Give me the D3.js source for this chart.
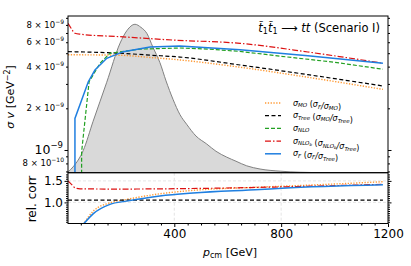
<!DOCTYPE html>
<html>
<head>
<meta charset="utf-8">
<script src="https://cdn.jsdelivr.net/npm/d3@7"></script>
<style>
  body { margin: 0; background: #fff; }
  svg { font-family: "DejaVu Sans", sans-serif; }
</style>
</head>
<body>
<svg id="chart" width="411" height="266"></svg>
<script>
// distribution (arbitrary units, 0..1)
const distP = [3, 21, 59, 96, 147, 197, 223, 253, 275, 297, 320, 346, 369, 395, 421, 446, 481, 521, 556, 596, 631, 671, 721, 796, 871, 983, 1100];
const distV = [0.006, 0.038, 0.145, 0.336, 0.591, 0.847, 0.93, 0.97, 0.95, 0.911, 0.82, 0.72, 0.60, 0.48, 0.38, 0.317, 0.24, 0.188, 0.14, 0.102, 0.075, 0.045, 0.024, 0.01, 0.003, 0.0, 0.0];

// cross sections [GeV^-2]
const sigMO   = [[2, 4.87e-9], [100, 4.86e-9], [197, 4.83e-9], [309, 4.66e-9], [421, 4.47e-9], [646, 3.96e-9], [900, 3.35e-9], [1181, 2.74e-9]];
const sigTree = [[2, 5.13e-9], [100, 5.08e-9], [197, 5.0e-9], [309, 4.84e-9], [421, 4.69e-9], [646, 4.11e-9], [900, 3.5e-9], [1181, 2.9e-9]];
const sigNLO  = [[53, 5e-10], [53, 9.7e-10], [81, 3.11e-9], [122, 4.23e-9], [159, 4.99e-9], [272, 5.35e-9], [421, 5.45e-9], [530, 5.35e-9], [646, 5.15e-9], [800, 4.75e-9], [1000, 4.3e-9], [1181, 3.83e-9]];
const sigNLOb = [[2, 8.2e-9], [15, 7.5e-9], [28, 6.96e-9], [50, 6.85e-9], [197, 6.58e-9], [395, 6.22e-9], [646, 5.89e-9], [900, 5.1e-9], [1181, 4.23e-9]];
const sigF    = [[28, 5e-10], [28, 1.69e-9], [78, 3.11e-9], [103, 3.78e-9], [147, 4.59e-9], [209, 5.13e-9], [309, 5.55e-9], [421, 5.63e-9], [646, 5.3e-9], [900, 4.8e-9], [1181, 4.23e-9]];

// ratios
const ratMO   = [[59, 0.49], [97, 0.80], [159, 0.99], [222, 1.07], [346, 1.2], [470, 1.28], [721, 1.355], [900, 1.4], [1181, 1.48]];
const ratTree = [[2, 1.055], [1181, 1.055]];
const ratNLOb = [[2, 1.5], [15, 1.42], [28, 1.34], [47, 1.315], [200, 1.31], [350, 1.315], [550, 1.33], [800, 1.36], [1000, 1.39], [1181, 1.42]];
const ratF    = [[59, 0.49], [97, 0.74], [159, 0.955], [222, 1.03], [346, 1.15], [470, 1.22], [721, 1.30], [803, 1.33], [1181, 1.41]];

const xMajor = [400, 800, 1200];
const yMinorLabels = [8e-10, 2e-9, 4e-9, 6e-9, 8e-9];
const rMajor = [1.0, 1.5];

const L = 68, R = 388, T = 16, M = 172.7, B = 223.5;
const svg = d3.select("#chart");

const x = d3.scaleLinear().domain([2, 1200]).range([L, R]);
const y = d3.scaleLog().domain([6.855e-10, 9.28e-9]).range([M, T]);
const yd = d3.scaleLinear().domain([0, 1]).range([M, T + 3.7]);
const yr = d3.scaleLinear().domain([0.51, 1.69]).range([B, M]);

const defs = svg.append("defs");
defs.append("clipPath").attr("id", "clipTop").append("rect")
  .attr("x", L).attr("y", T).attr("width", R - L).attr("height", M - T);
defs.append("clipPath").attr("id", "clipBot").append("rect")
  .attr("x", L).attr("y", M).attr("width", R - L).attr("height", B - M);

// grid in lower panel
const grid = svg.append("g").attr("clip-path", "url(#clipBot)");
grid.selectAll(".gx").data([400, 800]).enter().append("line")
  .attr("x1", d => x(d)).attr("x2", d => x(d)).attr("y1", M).attr("y2", B)
  .attr("stroke", "#ddd").attr("stroke-width", 0.8).attr("stroke-dasharray", "3,2");
grid.selectAll(".gy").data(rMajor).enter().append("line")
  .attr("x1", L).attr("x2", R).attr("y1", d => yr(d)).attr("y2", d => yr(d))
  .attr("stroke", "#ddd").attr("stroke-width", 0.8).attr("stroke-dasharray", "3,2");

// distribution
const gTop = svg.append("g").attr("clip-path", "url(#clipTop)");
const dist = distP.map((p, i) => [p, distV[i]]);
gTop.append("path").datum(dist)
  .attr("d", d3.area().x(d => x(d[0])).y0(M).y1(d => yd(d[1])).curve(d3.curveMonotoneX))
  .attr("fill", "#d9d9d9");
gTop.append("path").datum(dist)
  .attr("d", d3.line().x(d => x(d[0])).y(d => yd(d[1])).curve(d3.curveMonotoneX))
  .attr("fill", "none").attr("stroke", "#808080").attr("stroke-width", 1);

const styles = {
  mo:   { color: "#ff9933", dash: "1.3,1.5", w: 1.4 },
  tree: { color: "#000000", dash: "4,2.5", w: 1.2 },
  nlo:  { color: "#22a022", dash: "4,2", w: 1.2 },
  nlob: { color: "#dd1111", dash: "6,2,1.5,2", w: 1.2 },
  f:    { color: "#1f7fe0", dash: null, w: 1.5 }
};

function drawLine(g, data, ys, s, curve) {
  g.append("path").datum(data)
    .attr("d", d3.line().x(d => x(d[0])).y(d => ys(d[1])).curve(curve || d3.curveMonotoneX))
    .attr("fill", "none").attr("stroke", s.color).attr("stroke-width", s.w)
    .attr("stroke-dasharray", s.dash);
}

drawLine(gTop, sigMO, y, styles.mo);
drawLine(gTop, sigTree, y, styles.tree);
drawLine(gTop, sigNLO, y, styles.nlo, d3.curveLinear);
drawLine(gTop, sigNLOb, y, styles.nlob);
drawLine(gTop, sigF, y, styles.f, d3.curveLinear);

const gBot = svg.append("g").attr("clip-path", "url(#clipBot)");
drawLine(gBot, ratMO, yr, styles.mo);
drawLine(gBot, ratTree, yr, styles.tree);
drawLine(gBot, ratNLOb, yr, styles.nlob);
drawLine(gBot, ratF, yr, styles.f);

// frames
[[T, M], [M, B]].forEach(([a, b]) => {
  svg.append("rect").attr("x", L).attr("y", a).attr("width", R - L).attr("height", b - a)
    .attr("fill", "none").attr("stroke", "#000").attr("stroke-width", 1);
});

// top y ticks (log)
const yMinor = [];
[1e-10, 1e-9].forEach(dec => { for (let k = 2; k <= 9; k++) { const v = k * dec; if (v >= 6.855e-10 && v <= 9.28e-9) yMinor.push(v); } });
[[L, d3.axisLeft], [R, d3.axisRight]].forEach(([px, ax]) => {
  svg.append("g").attr("transform", `translate(${px},0)`)
    .call(ax(y).tickValues(yMinor).tickSize(2).tickFormat("")).call(g => g.select(".domain").remove());
  svg.append("g").attr("transform", `translate(${px},0)`)
    .call(ax(y).tickValues([1e-9]).tickSize(3.5).tickFormat("")).call(g => g.select(".domain").remove());
});

yMinorLabels.forEach(v => {
  const exp = Math.floor(Math.log10(v) + 1e-9);
  const mant = Math.round(v / Math.pow(10, exp));
  const t = svg.append("text").attr("x", L - 4).attr("y", y(v) + 3).attr("text-anchor", "end")
    .attr("font-size", 8.5);
  t.append("tspan").text(`${mant} × 10`);
  t.append("tspan").attr("dy", -4).attr("font-size", 6).text(`−${-exp}`);
});
{
  const t = svg.append("text").attr("x", L - 5).attr("y", y(1e-9) + 4.5).attr("text-anchor", "end")
    .attr("font-size", 12.5);
  t.append("tspan").text("10");
  t.append("tspan").attr("dy", -6).attr("font-size", 8.5).text("−9");
}

// lower y ticks
const rMinor = d3.range(0.55, 1.69, 0.05).filter(v => !rMajor.some(m => Math.abs(m - v) < 1e-6));
[[L, d3.axisLeft], [R, d3.axisRight]].forEach(([px, ax]) => {
  svg.append("g").attr("transform", `translate(${px},0)`)
    .call(ax(yr).tickValues(rMinor).tickSize(2).tickFormat("")).call(g => g.select(".domain").remove());
  svg.append("g").attr("transform", `translate(${px},0)`)
    .call(ax(yr).tickValues(rMajor).tickSize(3.5).tickFormat("")).call(g => g.select(".domain").remove());
});
svg.selectAll(".rlab").data(rMajor).enter().append("text")
  .attr("x", L - 5).attr("y", d => yr(d) + 4.5).attr("text-anchor", "end")
  .attr("font-size", 12).text(d => d.toFixed(1));

// x ticks
const xMinor = d3.range(50, 1200, 50).filter(v => !xMajor.includes(v));
svg.append("g").attr("transform", `translate(0,${B})`)
  .call(d3.axisBottom(x).tickValues(xMinor).tickSize(2).tickFormat("")).call(g => g.select(".domain").remove());
const xa = svg.append("g").attr("transform", `translate(0,${B})`)
  .call(d3.axisBottom(x).tickValues(xMajor).tickSize(3.5).tickPadding(2).tickFormat(d3.format("d")));
xa.select(".domain").remove();
xa.selectAll("text").attr("font-size", 12).attr("font-family", "DejaVu Sans");

// axis labels
{
  const t = svg.append("text").attr("transform", "translate(14,97) rotate(-90)")
    .attr("text-anchor", "middle").attr("font-size", 11);
  t.append("tspan").attr("font-style", "italic").text("σ v");
  t.append("tspan").text(" [GeV");
  t.append("tspan").attr("dy", -4).attr("font-size", 8).text("−2");
  t.append("tspan").attr("dy", 4).text("]");
}
svg.append("text").attr("transform", "translate(36,199) rotate(-90)")
  .attr("text-anchor", "middle").attr("font-size", 12).text("rel. corr");
{
  const t = svg.append("text").attr("x", 230).attr("y", 256).attr("text-anchor", "middle").attr("font-size", 11);
  t.append("tspan").attr("font-style", "italic").text("p");
  t.append("tspan").attr("dy", 2).attr("font-size", 8).text("cm");
  t.append("tspan").attr("dy", -2).text(" [GeV]");
}

// process annotation
{
  const t = svg.append("text").attr("x", 380).attr("y", 32).attr("text-anchor", "end").attr("font-size", 11.5);
  t.append("tspan").attr("font-style", "italic").text("t\u0303");
  t.append("tspan").attr("dy", 2).attr("font-size", 8).text("1");
  t.append("tspan").attr("dy", -2).attr("font-style", "italic").text("t\u0303");
  t.append("tspan").attr("dy", 2).attr("font-size", 8).text("1");
  t.append("tspan").attr("dy", -2).text(" ⟶ ");
  t.append("tspan").attr("font-style", "italic").text("tt");
  t.append("tspan").text(" (Scenario I)");
}

// legend
const legend = [
  { s: styles.mo,   main: "MO",   paren: ["F", "MO"] },
  { s: styles.tree, main: "Tree", paren: ["MO", "Tree"] },
  { s: styles.nlo,  main: "NLO",  paren: null },
  { s: styles.nlob, main: "NLOb", paren: ["NLOb", "Tree"] },
  { s: styles.f,    main: "F",    paren: ["F", "Tree"] }
];
function sigma(t, sub) {
  t.append("tspan").attr("font-style", "italic").text("σ");
  if (sub === "NLOb") {
    t.append("tspan").attr("dy", 1.5).attr("font-size", 5.5).attr("font-style", "italic").text("NLO");
    t.append("tspan").attr("dy", 1.2).attr("font-size", 4).attr("font-style", "italic").text("b");
    t.append("tspan").attr("dy", -2.7).text("");
  } else {
    t.append("tspan").attr("dy", 1.5).attr("font-size", 5.5).attr("font-style", "italic").text(sub);
    t.append("tspan").attr("dy", -1.5).text("");
  }
}
legend.forEach((d, i) => {
  const cy = 103 + i * 12.7;
  svg.append("line").attr("x1", 265).attr("x2", 281).attr("y1", cy).attr("y2", cy)
    .attr("stroke", d.s.color).attr("stroke-width", d.s.w).attr("stroke-dasharray", d.s.dash);
  const t = svg.append("text").attr("x", 293).attr("y", cy + 2.5).attr("font-size", 8);
  sigma(t, d.main);
  if (d.paren) {
    t.append("tspan").text(" (");
    sigma(t, d.paren[0]);
    t.append("tspan").attr("font-style", "italic").text("/");
    sigma(t, d.paren[1]);
    t.append("tspan").text(")");
  }
});
</script>
</body>
</html>
